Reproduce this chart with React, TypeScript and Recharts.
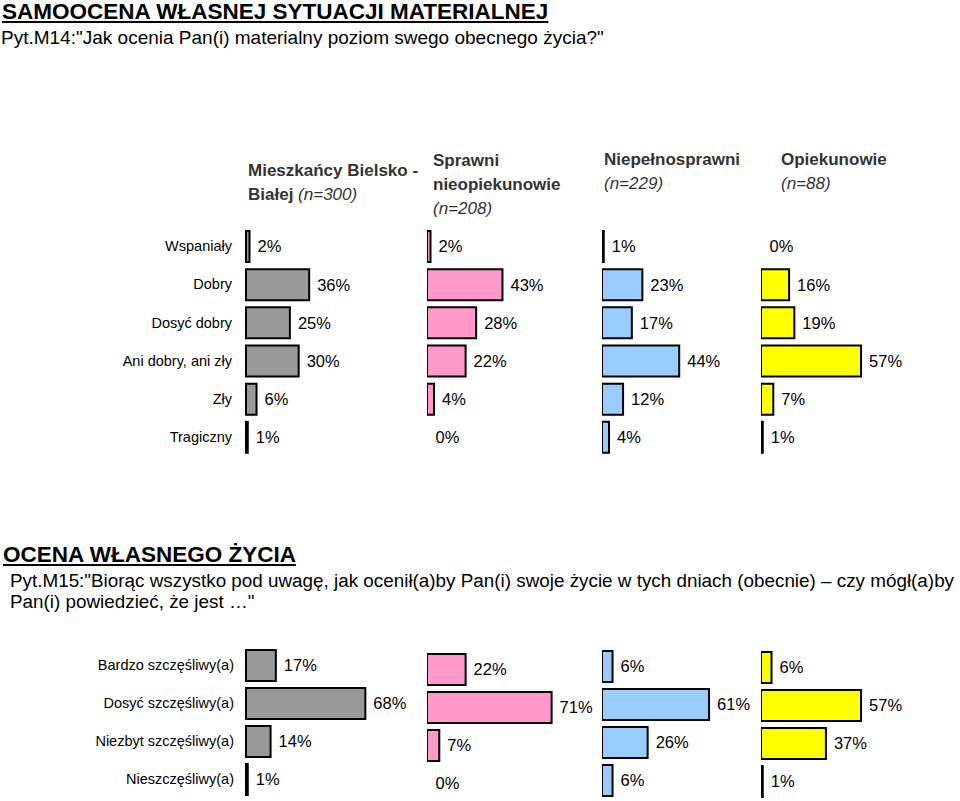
import { BarChart, Bar, XAxis, YAxis, LabelList, Rectangle } from "recharts";

const topCategories = ["Wspaniały", "Dobry", "Dosyć dobry", "Ani dobry, ani zły", "Zły", "Tragiczny"];
const topMieszkancy = [2, 36, 25, 30, 6, 1];
const topSprawni = [2, 43, 28, 22, 4, 0];
const topNiepelnosprawni = [1, 23, 17, 44, 12, 4];
const topOpiekunowie = [0, 16, 19, 57, 7, 1];

const bottomCategories = ["Bardzo szczęśliwy(a)", "Dosyć szczęśliwy(a)", "Niezbyt szczęśliwy(a)", "Nieszczęśliwy(a)"];
const bottomMieszkancy = [17, 68, 14, 1];
const bottomSprawni = [22, 71, 7, 0];
const bottomNiepelnosprawni = [6, 61, 26, 6];
const bottomOpiekunowie = [6, 57, 37, 1];

const groupColors = ["#999999", "#ff99cc", "#99ccff", "#ffff00"];

const FONT = "Arial, 'Liberation Sans', sans-serif";
const PLOT_W = 175.5; // 100% of the scale
const BAR_LEFT = [246, 427, 601.5, 761];

const topData = topCategories.map((name, i) => ({
  name,
  v0: topMieszkancy[i],
  v1: topSprawni[i],
  v2: topNiepelnosprawni[i],
  v3: topOpiekunowie[i],
}));

const bottomData = bottomCategories.map((name, i) => ({
  name,
  v0: bottomMieszkancy[i],
  v1: bottomSprawni[i],
  v2: bottomNiepelnosprawni[i],
  v3: bottomOpiekunowie[i],
}));

function Panel({ data, idx, top, height, tickMargin }: any) {
  const withAxis = idx === 0;
  const axisW = withAxis ? BAR_LEFT[0] : 0;
  const left = withAxis ? 0 : BAR_LEFT[idx];
  const key = "v" + idx;
  // zero values: keep a tiny bar so the label is placed, but draw nothing
  const shape = (p: any) => (p.payload && p.payload[key] > 0 ? <Rectangle {...p} /> : <g />);
  return (
    <div style={{ position: "absolute", left, top }}>
      <BarChart
        width={axisW + PLOT_W + 50}
        height={height}
        data={data}
        layout="vertical"
        margin={{ top: 0, right: 50, bottom: 0, left: 0 }}
      >
        <XAxis type="number" domain={[0, 100]} hide />
        <YAxis
          type="category"
          dataKey="name"
          hide={!withAxis}
          width={axisW}
          axisLine={false}
          tickLine={false}
          tickSize={0}
          tickMargin={tickMargin}
          tick={{ fontSize: 14.5, fill: "#000" }}
        />
        <Bar
          dataKey={key}
          fill={groupColors[idx]}
          stroke="#000"
          strokeWidth={2}
          barSize={31}
          minPointSize={0.5}
          shape={shape}
          isAnimationActive={false}
        >
          <LabelList
            dataKey={key}
            position="right"
            offset={8}
            formatter={(v: any) => `${v}%`}
            fill="#000"
            fontSize={16.5}
          />
        </Bar>
      </BarChart>
    </div>
  );
}

const headStyle = { position: "absolute" as const, fontSize: 17, fontWeight: 700, lineHeight: "24px", color: "#333", whiteSpace: "nowrap" as const };
const nStyle = { fontStyle: "italic", fontWeight: 400 };

export default function App() {
  const bottomTops = [646, 650, 646.5, 648];
  return (
    <div style={{ position: "absolute", left: 0, top: 0, width: 960, height: 801, background: "#fff", fontFamily: FONT, overflow: "hidden", color: "#000" }}>
      <div style={{ position: "absolute", left: 2, top: 1, fontSize: 22.5, fontWeight: 700, lineHeight: "22px", textDecoration: "underline", whiteSpace: "nowrap" }}>
        SAMOOCENA WŁASNEJ SYTUACJI MATERIALNEJ
      </div>
      <div style={{ position: "absolute", left: 1, top: 27, fontSize: 19, lineHeight: "22px", whiteSpace: "nowrap" }}>
        Pyt.M14:"Jak ocenia Pan(i) materialny poziom swego obecnego życia?"
      </div>

      <div style={{ ...headStyle, left: 248, top: 159 }}>
        Mieszkańcy Bielsko -<br />Białej <span style={nStyle}>(n=300)</span>
      </div>
      <div style={{ ...headStyle, left: 433, top: 149 }}>
        Sprawni<br />nieopiekunowie<br /><span style={nStyle}>(n=208)</span>
      </div>
      <div style={{ ...headStyle, left: 604, top: 148 }}>
        Niepełnosprawni<br /><span style={nStyle}>(n=229)</span>
      </div>
      <div style={{ ...headStyle, left: 781, top: 148 }}>
        Opiekunowie<br /><span style={nStyle}>(n=88)</span>
      </div>

      {[0, 1, 2, 3].map((i) => (
        <Panel key={"t" + i} data={topData} idx={i} top={227} height={229} tickMargin={14} />
      ))}

      <div style={{ position: "absolute", left: 3, top: 544, fontSize: 22.5, fontWeight: 700, lineHeight: "22px", textDecoration: "underline", whiteSpace: "nowrap" }}>
        OCENA WŁASNEGO ŻYCIA
      </div>
      <div style={{ position: "absolute", left: 10, top: 570, fontSize: 18.85, lineHeight: "21px", whiteSpace: "nowrap" }}>
        Pyt.M15:"Biorąc wszystko pod uwagę, jak ocenił(a)by Pan(i) swoje życie w tych dniach (obecnie) – czy mógł(a)by
        <br />
        Pan(i) powiedzieć, że jest …"
      </div>

      {[0, 1, 2, 3].map((i) => (
        <Panel key={"b" + i} data={bottomData} idx={i} top={bottomTops[i]} height={152} tickMargin={12} />
      ))}
    </div>
  );
}
